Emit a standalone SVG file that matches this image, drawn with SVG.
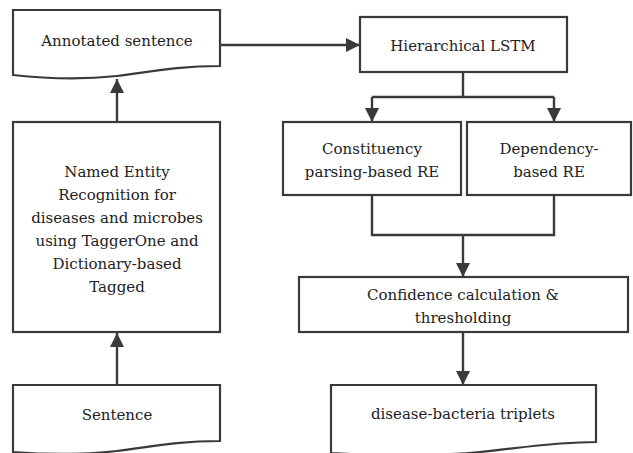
<svg xmlns="http://www.w3.org/2000/svg" width="633" height="453" viewBox="0 0 633 453">
<style>
.box{fill:#fff;stroke:#3a3a3a;stroke-width:2.2}
.t{font-family:"DejaVu Serif","Liberation Serif",serif;font-size:15px;fill:#222;text-anchor:middle}
.c{fill:none;stroke:#3a3a3a;stroke-width:2.4}
</style>
<defs>
<marker id="ah" markerUnits="userSpaceOnUse" markerWidth="14" markerHeight="14" viewBox="0 0 10 10" refX="10" refY="5" orient="auto">
<path d="M0,0 L10,5 L0,10 z" fill="#3a3a3a"/>
</marker>
</defs>
<rect width="633" height="453" fill="#fff"/>
<g id="connectors">
<path class="c" d="M220,45 H360" marker-end="url(#ah)"/>
<path class="c" d="M463,72 V97 M372,97 H554"/>
<path class="c" d="M372,97 V122" marker-end="url(#ah)"/>
<path class="c" d="M554,97 V122" marker-end="url(#ah)"/>
<path class="c" d="M372,195 V235 H554 V195"/>
<path class="c" d="M463,235 V277" marker-end="url(#ah)"/>
<path class="c" d="M463,332 V385" marker-end="url(#ah)"/>
<path class="c" d="M117,122 V79" marker-end="url(#ah)"/>
<path class="c" d="M117,385 V333" marker-end="url(#ah)"/>
</g>
<g id="annotated">
<path class="box" d="M13,10 H220 V66 C175,66 150,72 117,76 C80,80 40,78 13,75 Z"/>
<text class="t" x="117" y="46">Annotated sentence</text>
</g>
<g id="lstm">
<rect class="box" x="360" y="17" width="207" height="55"/>
<text class="t" x="463" y="51">Hierarchical LSTM</text>
</g>
<g id="constituency">
<rect class="box" x="283" y="122" width="178" height="73"/>
<text class="t" x="372" y="154">Constituency</text>
<text class="t" x="372" y="177">parsing-based RE</text>
</g>
<g id="dependency">
<rect class="box" x="467" y="122" width="164" height="73"/>
<text class="t" x="549" y="154">Dependency-</text>
<text class="t" x="549" y="177">based RE</text>
</g>
<g id="confidence">
<rect class="box" x="299" y="277" width="329" height="55"/>
<text class="t" x="463" y="300">Confidence calculation &amp;</text>
<text class="t" x="463" y="323">thresholding</text>
</g>
<g id="triplets">
<path class="box" d="M331,385 H596 V442 C555,442 520,448 480,452 C440,456 380,456 331,453 Z"/>
<text class="t" x="463" y="419">disease-bacteria triplets</text>
</g>
<g id="ner">
<rect class="box" x="13" y="122" width="207" height="210"/>
<text class="t" x="117" y="177">Named Entity</text>
<text class="t" x="117" y="200">Recognition for</text>
<text class="t" x="117" y="223">diseases and microbes</text>
<text class="t" x="117" y="246">using TaggerOne and</text>
<text class="t" x="117" y="269">Dictionary-based</text>
<text class="t" x="117" y="292">Tagged</text>
</g>
<g id="sentence">
<path class="box" d="M13,385 H220 V441 C175,441 150,447 117,451 C80,455 40,454 13,452 Z"/>
<text class="t" x="117" y="420">Sentence</text>
</g>
</svg>
